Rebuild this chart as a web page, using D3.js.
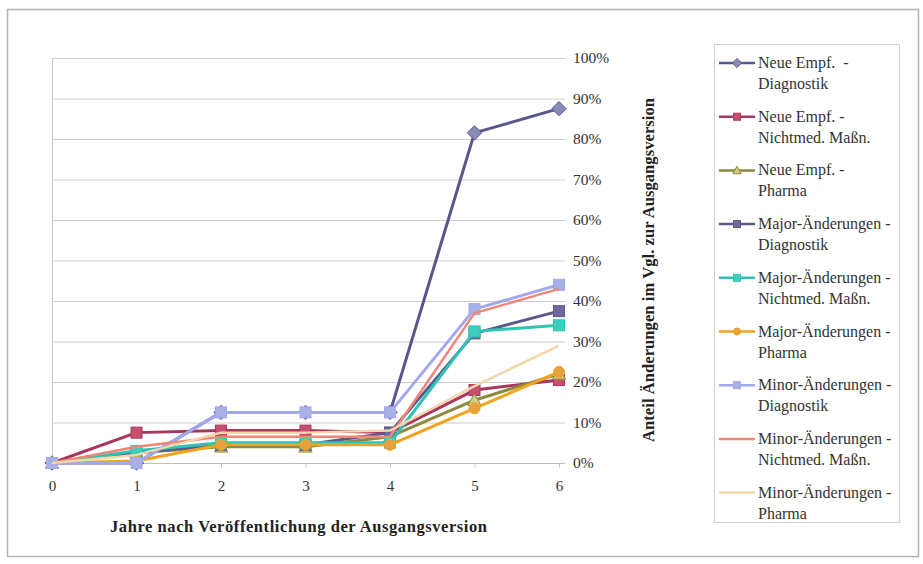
<!DOCTYPE html>
<html>
<head>
<meta charset="utf-8">
<script src="https://cdn.jsdelivr.net/npm/d3@7"></script>
<style>
  html, body { margin: 0; padding: 0; background: #fff; }
  svg { display: block; font-family: "Liberation Serif", "Times New Roman", "DejaVu Serif", serif; }
  text { white-space: pre; }
</style>
</head>
<body>
<svg id="chart" width="923" height="564"></svg>
<script>
// Years since the base version was published
const years = [0, 1, 2, 3, 4, 5, 6];
const yTicks = [0, 0.1, 0.2, 0.3, 0.4, 0.5, 0.6, 0.7, 0.8, 0.9, 1.0];

// Series names (two legend lines each)
const seriesNames = [
  ["Neue Empf.  -", "Diagnostik"],
  ["Neue Empf. -", "Nichtmed. Maßn."],
  ["Neue Empf. -", "Pharma"],
  ["Major-Änderungen -", "Diagnostik"],
  ["Major-Änderungen -", "Nichtmed. Maßn."],
  ["Major-Änderungen -", "Pharma"],
  ["Minor-Änderungen -", "Diagnostik"],
  ["Minor-Änderungen -", "Nichtmed. Maßn."],
  ["Minor-Änderungen -", "Pharma"]
];

// Share of changes relative to the base version, per year
const neueDiagnostik     = [0, 0,     0.125, 0.125, 0.125, 0.815, 0.875];
const neueNichtmed       = [0, 0.075, 0.08,  0.08,  0.075, 0.18,  0.205];
const neuePharma         = [0, 0.025, 0.04,  0.04,  0.065, 0.155, 0.22];
const majorDiagnostik    = [0, 0.025, 0.045, 0.045, 0.075, 0.32,  0.375];
const majorNichtmed      = [0, 0.03,  0.05,  0.05,  0.05,  0.325, 0.34];
const majorPharma        = [0, 0.005, 0.045, 0.045, 0.045, 0.135, 0.225];
const minorDiagnostik    = [0, 0,     0.125, 0.125, 0.125, 0.38,  0.44];
const minorNichtmed      = [0, 0.04,  0.065, 0.065, 0.065, 0.37,  0.43];
const minorPharma        = [0, 0.02,  0.075, 0.075, 0.08,  0.19,  0.29];

const seriesValues = [neueDiagnostik, neueNichtmed, neuePharma, majorDiagnostik,
  majorNichtmed, majorPharma, minorDiagnostik, minorNichtmed, minorPharma];

const colors = ["#57578a", "#a8365e", "#8c8a3e", "#5c588c", "#2cc4b4",
  "#f2a21c", "#a2a8ee", "#f28676", "#f4d6aa"];
const markerFill = ["#8a8ab8", "#c8506e", "#d0cc80", "#6e6a9e", "#3ccfc0",
  "#e8a040", "#a8b0e6", null, null];
const markers = ["diamond", "square", "triangle", "square", "square",
  "circle", "square", null, null];

const svg = d3.select("#chart");

// Outer chart frame
svg.append("rect")
  .attr("x", 7.5).attr("y", 9.5).attr("width", 911).attr("height", 547)
  .attr("fill", "#fff").attr("stroke", "#b4b4b4").attr("stroke-width", 1.5);

const plot = { left: 52, right: 559, top: 58, bottom: 463 };

const x = d3.scaleLinear().domain([0, 6]).range([plot.left, plot.right]);
const y = d3.scaleLinear().domain([0, 1]).range([plot.bottom, plot.top]);

// Horizontal gridlines
svg.append("g").selectAll("line").data(yTicks).join("line")
  .attr("x1", plot.left).attr("x2", plot.right + 6)
  .attr("y1", d => y(d) + 0.5).attr("y2", d => y(d) + 0.5)
  .attr("stroke", d => d === 0 ? "#bdbdbd" : "#cccccc").attr("stroke-width", 1);

// Left frame line
svg.append("line")
  .attr("x1", plot.left + 0.5).attr("x2", plot.left + 0.5)
  .attr("y1", plot.top).attr("y2", plot.bottom + 4)
  .attr("stroke", "#c4c4c4");

// Right-hand percentage axis
const yAxis = d3.axisRight(y).tickValues(yTicks)
  .tickFormat(d => Math.round(d * 100) + "%").tickSize(0).tickPadding(13);
const gy = svg.append("g").attr("transform", `translate(${plot.right + 1},0)`).call(yAxis);
gy.select(".domain").remove();
gy.selectAll("text").attr("font-size", 15.5).attr("fill", "#333")
  .attr("font-family", null);

// Bottom year axis
const xAxis = d3.axisBottom(x).tickValues(years).tickFormat(d3.format("d"))
  .tickSize(4).tickPadding(13);
const gx = svg.append("g").attr("transform", `translate(0,${plot.bottom + 0.5})`).call(xAxis);
gx.select(".domain").remove();
gx.selectAll("line").attr("stroke", "#c4c4c4");
gx.selectAll("text").attr("font-size", 15).attr("fill", "#333")
  .attr("font-family", null);
gy.attr("font-family", null);
gx.attr("font-family", null);

// Axis titles
svg.append("text")
  .attr("x", 110).attr("y", 532)
  .attr("font-size", 16.5).attr("font-weight", "bold").attr("fill", "#222")
  .attr("textLength", 377).attr("lengthAdjust", "spacing")
  .text("Jahre nach Veröffentlichung der Ausgangsversion");

svg.append("text")
  .attr("transform", "translate(654,442) rotate(-90)")
  .attr("font-size", 16.5).attr("font-weight", "bold").attr("fill", "#222")
  .attr("textLength", 344).attr("lengthAdjust", "spacing")
  .text("Anteil Änderungen im Vgl. zur Ausgangsversion");

function drawMarker(g, type, cx, cy, fill, stroke, s) {
  if (type === "square") {
    g.append("rect").attr("x", cx - s / 2).attr("y", cy - s / 2)
      .attr("width", s).attr("height", s)
      .attr("fill", fill).attr("stroke", stroke).attr("stroke-width", 1);
  } else if (type === "diamond") {
    const r = s * 0.65;
    g.append("path")
      .attr("d", `M${cx},${cy - r}L${cx + r},${cy}L${cx},${cy + r}L${cx - r},${cy}Z`)
      .attr("fill", fill).attr("stroke", stroke).attr("stroke-width", 1);
  } else if (type === "triangle") {
    const r = s * 0.6;
    g.append("path")
      .attr("d", `M${cx},${cy - r}L${cx + r},${cy + r * 0.8}L${cx - r},${cy + r * 0.8}Z`)
      .attr("fill", fill).attr("stroke", stroke).attr("stroke-width", 1);
  } else if (type === "circle") {
    g.append("circle").attr("cx", cx).attr("cy", cy).attr("r", s / 2)
      .attr("fill", fill).attr("stroke", stroke).attr("stroke-width", 1);
  }
}

const line = d3.line().x((d, i) => x(years[i])).y(d => y(d));

// Series lines and markers
seriesValues.forEach((vals, si) => {
  const g = svg.append("g");
  g.append("path").datum(vals)
    .attr("d", line)
    .attr("fill", "none")
    .attr("stroke", colors[si])
    .attr("stroke-width", si >= 7 ? 2.5 : 3)
    .attr("stroke-linejoin", "round");
  if (markers[si]) {
    vals.forEach((v, i) => {
      drawMarker(g, markers[si], x(years[i]), y(v), markerFill[si], colors[si], 11);
    });
  }
});

// Legend
const legend = svg.append("g");
legend.append("rect")
  .attr("x", 714.5).attr("y", 44.5).attr("width", 185).attr("height", 478)
  .attr("fill", "#fff").attr("stroke", "#d0d0d0");

seriesNames.forEach((name, si) => {
  const yy = 63 + si * 53.7;
  const g = legend.append("g");
  g.append("line").attr("x1", 719).attr("x2", 755).attr("y1", yy).attr("y2", yy)
    .attr("stroke", colors[si]).attr("stroke-width", 2.5);
  if (markers[si]) {
    drawMarker(g, markers[si], 737, yy, markerFill[si], colors[si], 7);
  }
  g.append("text").attr("x", 758).attr("y", yy + 5)
    .attr("font-size", 16).attr("fill", "#333").text(name[0]);
  g.append("text").attr("x", 758).attr("y", yy + 26)
    .attr("font-size", 16).attr("fill", "#333").text(name[1]);
});
</script>
</body>
</html>
